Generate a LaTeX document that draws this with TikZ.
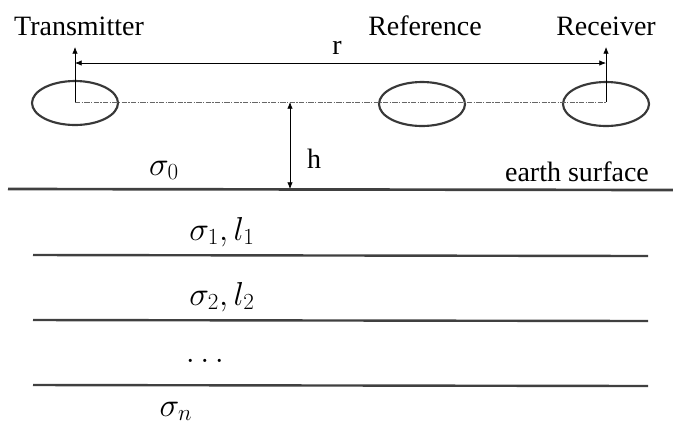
\documentclass[tikz,border=0pt]{standalone}
\usepackage{fontspec}
\setmainfont{Liberation Serif}
\usetikzlibrary{calc, positioning, shapes.geometric, arrows.meta}

\begin{document}
\begin{tikzpicture}[>=latex, x=0.75pt, y=-0.75pt]
\tikzstyle{loop}=[draw=black!78, line width=1.6pt, ellipse, minimum width=64.5pt, minimum height=33pt, inner sep=0]
\tikzstyle{word}=[anchor=base, inner sep=0, font=\fontsize{21}{25}\selectfont]
\tikzstyle{layer}=[anchor=base, inner sep=0, font=\fontsize{23}{28}\selectfont]
\tikzstyle{ground}=[draw=black!75, line width=2pt]
\tikzstyle{thin arrow}=[black, line width=0.5pt, >={Latex[length=5pt,width=4pt]}]

\useasboundingbox (0,0) rectangle (673,426);

% loops above the ground
\node[loop] (tx) at (75,103) {};
\node[loop] (ref) at (422,104) {};
\node[loop] (rx) at (606,104) {};
\coordinate (txc) at (75,102);
\coordinate (rxc) at (606,102);
\coordinate (txtop) at (75,47);
\coordinate (rxtop) at (606,47);
\coordinate (rleft) at (75,63);
\coordinate (rright) at (606,63);
\coordinate (hTop) at (290,102);
\coordinate (hBot) at (290,189);

\node[word] (txlabel) at (79,35) {Transmitter};
\node[word] (reflabel) at (425,35) {Reference};
\node[word] (rxlabel) at (606,35) {Receiver};
\node[word] (rlabel) at (337,54) {r};
\node[word] (hlabel) at (314,168) {h};
\node[word] (earth) at (577,181) {earth surface};

\draw[black!60, line width=0.5pt, dash pattern=on 4pt off 1pt on 1pt off 1pt] (txc) -- (rxc);
\draw[thin arrow, ->] (txc) -- (txtop);
\draw[thin arrow, ->] (rxc) -- (rxtop);
\draw[thin arrow, <->] (rleft) -- (rright);
\draw[thin arrow, <->] (hTop) -- (hBot);

% the earth and its layers
\draw[ground] (8,189) -- (673,190);
\foreach \y in {255,320,385}
  \draw[ground, line width=1.8pt] (33,\y) -- (648,\y+1);

\node[layer] (s0) at (164,175) {$\sigma_0$};
\node[layer] (s1) at (222,240) {$\sigma_1, l_1$};
\node[layer] (s2) at (222,305) {$\sigma_2, l_2$};
\node[layer] (dots) at (205,362) {$\dots$};
\node[layer] (sn) at (176,416) {$\sigma_n$};
\end{tikzpicture}
\end{document}
